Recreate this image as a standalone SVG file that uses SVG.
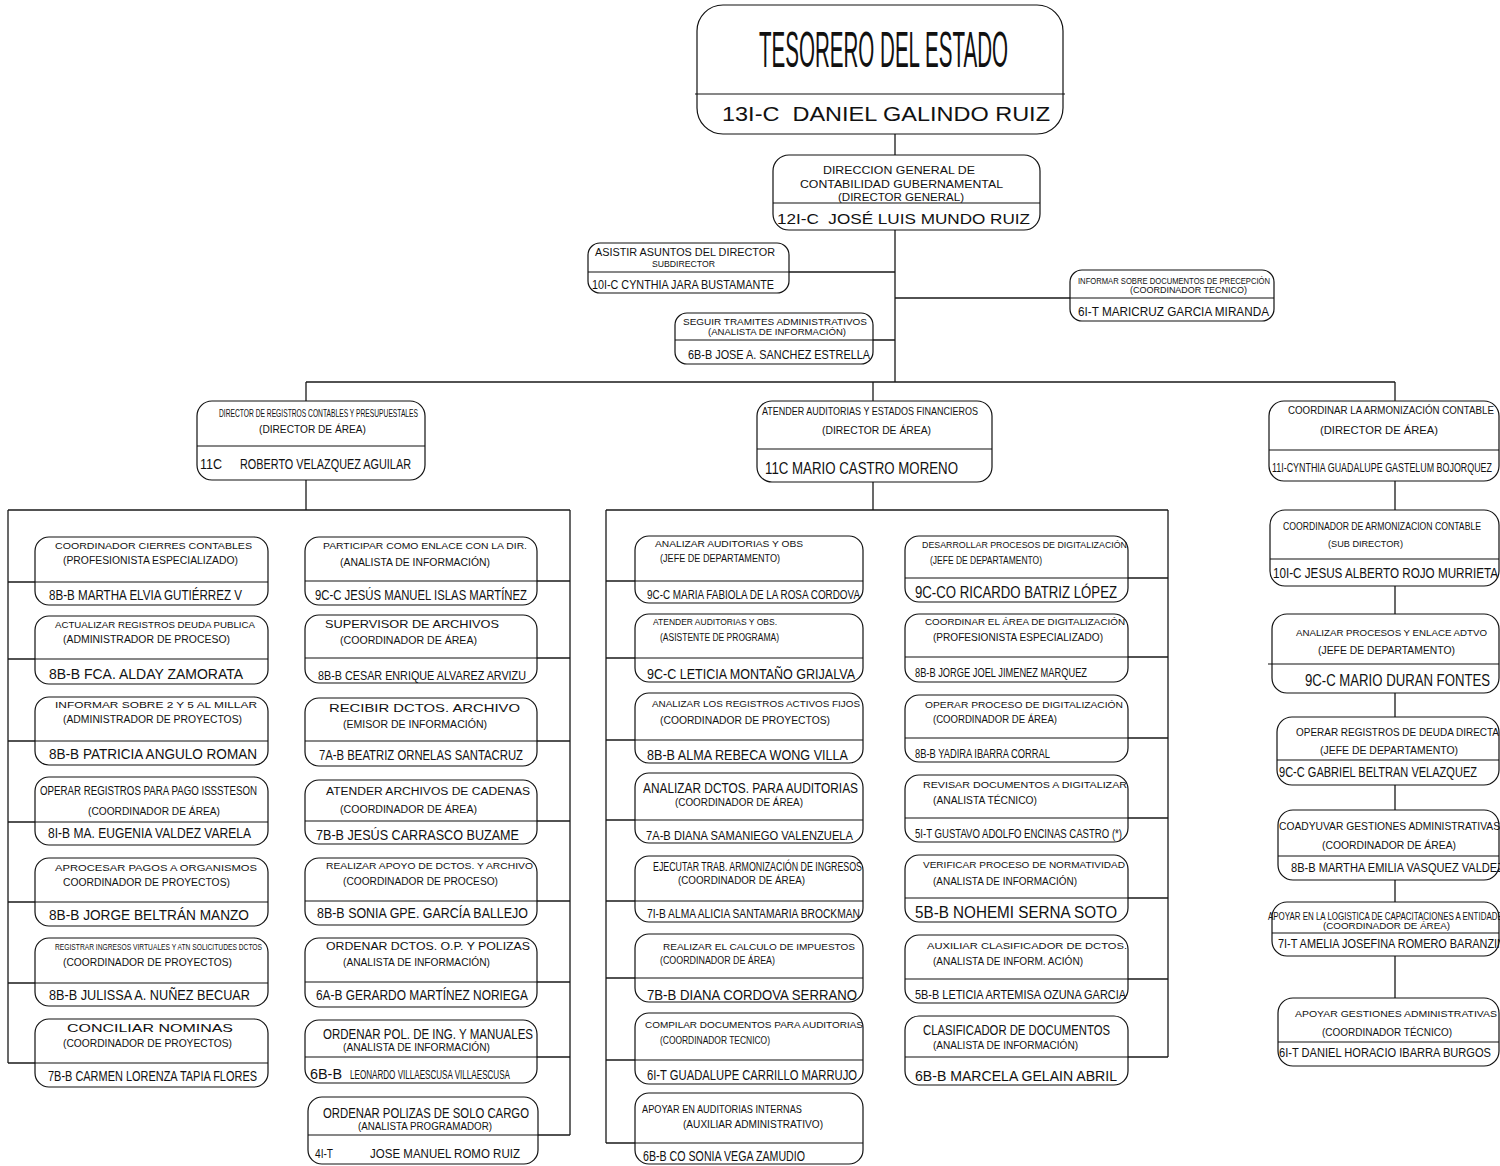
<svg xmlns="http://www.w3.org/2000/svg" width="1500" height="1166" viewBox="0 0 1500 1166">
<style>
text{font-family:"Liberation Sans",Arial,sans-serif;fill:#111}
.box{fill:#fff;stroke:#111;stroke-width:1.2}
.dv{stroke:#111;stroke-width:1.1}
.cn{stroke:#1a1a1a;stroke-width:1.3;fill:none}
</style>
<rect width="1500" height="1166" fill="#fff"/>
<g id="connectors">
<path class="cn" d="M895,134V155M895,230V382M306,382H1395M306,382V401M873,382V401M1395,382V401M789,272H895M873,340H895M895,298H1070"/>
<path class="cn" d="M306,480V510M8,510H570M8,510V1063M570,510V1135"/>
<path class="cn" d="M8,582H35M8,659H35M8,741H35M8,822H35M8,902H35M8,983H35M8,1063H35"/>
<path class="cn" d="M537,581H570M537,658H570M537,741H570M537,821H570M537,901H570M537,982H570M537,1057H570M538,1135H570"/>
<path class="cn" d="M873,482V510M606,510H1168M606,510V1143M1168,510V1057"/>
<path class="cn" d="M606,581H635M606,658H635M606,740H635M606,820H635M606,901H635M606,978H635M606,1060H635M606,1143H635"/>
<path class="cn" d="M1128,578H1168M1128,657H1168M1128,738H1168M1128,818H1168M1128,898H1168M1128,979H1168M1128,1057H1168"/>
<path class="cn" d="M1395,481V510M1395,586V614M1395,693V717M1395,785V810M1395,880V902M1395,956V998"/>
</g>
<g id="n-tesorero"><rect class="box" x="697" y="5" width="366" height="129" rx="26"/><line class="dv" x1="695" y1="94" x2="1065" y2="94"/>
<text x="759" y="67" font-size="50" textLength="249" lengthAdjust="spacingAndGlyphs">TESORERO DEL ESTADO</text>
<text x="722" y="121" font-size="20" textLength="328" lengthAdjust="spacingAndGlyphs" xml:space="preserve">13I-C  DANIEL GALINDO RUIZ</text></g>
<g id="n-dg"><rect class="box" x="773" y="155" width="267" height="75" rx="16"/><line class="dv" x1="773" y1="203" x2="1040" y2="203"/>
<text x="823" y="174" font-size="11" textLength="152" lengthAdjust="spacingAndGlyphs">DIRECCION GENERAL DE</text>
<text x="800" y="188" font-size="11" textLength="203" lengthAdjust="spacingAndGlyphs">CONTABILIDAD GUBERNAMENTAL</text>
<text x="838" y="201" font-size="10" textLength="126" lengthAdjust="spacingAndGlyphs">(DIRECTOR GENERAL)</text>
<text x="777" y="224" font-size="15" textLength="253" lengthAdjust="spacingAndGlyphs" xml:space="preserve">12I-C  JOSÉ LUIS MUNDO RUIZ</text></g>
<g id="n-asistir"><rect class="box" x="588" y="243" width="201" height="50" rx="12"/><line class="dv" x1="588" y1="272" x2="789" y2="272"/>
<text x="595" y="256" font-size="10" textLength="180" lengthAdjust="spacingAndGlyphs">ASISTIR ASUNTOS DEL DIRECTOR</text>
<text x="652" y="267" font-size="9" textLength="63" lengthAdjust="spacingAndGlyphs">SUBDIRECTOR</text>
<text x="592" y="289" font-size="13" textLength="182" lengthAdjust="spacingAndGlyphs">10I-C CYNTHIA JARA BUSTAMANTE</text></g>
<g id="n-seguir"><rect class="box" x="675" y="313" width="198" height="51" rx="12"/><line class="dv" x1="675" y1="340" x2="873" y2="340"/>
<text x="683" y="325" font-size="9.5" textLength="184" lengthAdjust="spacingAndGlyphs">SEGUIR TRAMITES ADMINISTRATIVOS</text>
<text x="708" y="335" font-size="9" textLength="138" lengthAdjust="spacingAndGlyphs">(ANALISTA DE INFORMACIÓN)</text>
<text x="688" y="359" font-size="13" textLength="182" lengthAdjust="spacingAndGlyphs">6B-B JOSE A. SANCHEZ ESTRELLA</text></g>
<g id="n-informar"><rect class="box" x="1070" y="270" width="204" height="51" rx="12"/><line class="dv" x1="1070" y1="298" x2="1274" y2="298"/>
<text x="1078" y="284" font-size="9" textLength="192" lengthAdjust="spacingAndGlyphs">INFORMAR SOBRE DOCUMENTOS DE PRECEPCIÓN</text>
<text x="1130" y="293" font-size="9" textLength="117" lengthAdjust="spacingAndGlyphs">(COORDINADOR TECNICO)</text>
<text x="1078" y="316" font-size="13" textLength="191" lengthAdjust="spacingAndGlyphs">6I-T MARICRUZ GARCIA MIRANDA</text></g>
<g id="n-dir-registros"><rect class="box" x="197" y="401" width="228" height="79" rx="15"/><line class="dv" x1="197" y1="446" x2="425" y2="446"/>
<text x="219" y="417" font-size="11.5" textLength="199" lengthAdjust="spacingAndGlyphs">DIRECTOR DE REGISTROS CONTABLES Y PRESUPUESTALES</text>
<text x="259" y="433" font-size="11" textLength="107" lengthAdjust="spacingAndGlyphs">(DIRECTOR DE ÁREA)</text>
<text x="200" y="469" font-size="14" textLength="22" lengthAdjust="spacingAndGlyphs">11C</text>
<text x="240" y="469" font-size="14" textLength="171" lengthAdjust="spacingAndGlyphs">ROBERTO VELAZQUEZ AGUILAR</text></g>
<g id="n-dir-auditorias"><rect class="box" x="757" y="401" width="235" height="81" rx="15"/><line class="dv" x1="757" y1="449" x2="992" y2="449"/>
<text x="762" y="415" font-size="11.5" textLength="216" lengthAdjust="spacingAndGlyphs">ATENDER AUDITORIAS Y ESTADOS FINANCIEROS</text>
<text x="822" y="434" font-size="11" textLength="109" lengthAdjust="spacingAndGlyphs">(DIRECTOR DE ÁREA)</text>
<text x="765" y="474" font-size="17" textLength="193" lengthAdjust="spacingAndGlyphs">11C MARIO CASTRO MORENO</text></g>
<g id="n-dir-armonizacion"><rect class="box" x="1269" y="401" width="230" height="80" rx="15"/><line class="dv" x1="1269" y1="450" x2="1499" y2="450"/>
<text x="1288" y="414" font-size="10" textLength="206" lengthAdjust="spacingAndGlyphs">COORDINAR LA ARMONIZACIÓN CONTABLE</text>
<text x="1320" y="434" font-size="11" textLength="118" lengthAdjust="spacingAndGlyphs">(DIRECTOR DE ÁREA)</text>
<text x="1272" y="472" font-size="12.5" textLength="220" lengthAdjust="spacingAndGlyphs">11I-CYNTHIA GUADALUPE GASTELUM BOJORQUEZ</text></g>

<g id="n-l1"><rect class="box" x="35" y="537" width="233" height="68" rx="14"/><line class="dv" x1="35" y1="582" x2="268" y2="582"/>
<text x="55" y="549" font-size="9.5" textLength="197" lengthAdjust="spacingAndGlyphs">COORDINADOR CIERRES CONTABLES</text>
<text x="63" y="564" font-size="10" textLength="175" lengthAdjust="spacingAndGlyphs">(PROFESIONISTA ESPECIALIZADO)</text>
<text x="49" y="600" font-size="14" textLength="193" lengthAdjust="spacingAndGlyphs">8B-B MARTHA ELVIA GUTIÉRREZ V</text></g>
<g id="n-l2"><rect class="box" x="35" y="616" width="233" height="68" rx="14"/><line class="dv" x1="35" y1="659" x2="268" y2="659"/>
<text x="55" y="628" font-size="9" textLength="200" lengthAdjust="spacingAndGlyphs">ACTUALIZAR REGISTROS DEUDA PUBLICA</text>
<text x="63" y="643" font-size="10" textLength="167" lengthAdjust="spacingAndGlyphs">(ADMINISTRADOR DE PROCESO)</text>
<text x="49" y="679" font-size="15" textLength="194" lengthAdjust="spacingAndGlyphs">8B-B FCA. ALDAY ZAMORATA</text></g>
<g id="n-l3"><rect class="box" x="35" y="697" width="233" height="68" rx="14"/><line class="dv" x1="35" y1="741" x2="268" y2="741"/>
<text x="55" y="708" font-size="9.5" textLength="202" lengthAdjust="spacingAndGlyphs">INFORMAR SOBRE 2 Y 5 AL MILLAR</text>
<text x="63" y="723" font-size="10" textLength="179" lengthAdjust="spacingAndGlyphs">(ADMINISTRADOR DE PROYECTOS)</text>
<text x="49" y="759" font-size="15" textLength="208" lengthAdjust="spacingAndGlyphs">8B-B PATRICIA ANGULO ROMAN</text></g>
<g id="n-l4"><rect class="box" x="35" y="777" width="233" height="68" rx="14"/><line class="dv" x1="35" y1="822" x2="268" y2="822"/>
<text x="40" y="795" font-size="12.5" textLength="217" lengthAdjust="spacingAndGlyphs">OPERAR REGISTROS PARA PAGO ISSSTESON</text>
<text x="88" y="815" font-size="10" textLength="132" lengthAdjust="spacingAndGlyphs">(COORDINADOR DE ÁREA)</text>
<text x="48" y="838" font-size="14" textLength="203" lengthAdjust="spacingAndGlyphs">8I-B MA. EUGENIA VALDEZ VARELA</text></g>
<g id="n-l5"><rect class="box" x="35" y="858" width="233" height="68" rx="14"/><line class="dv" x1="35" y1="902" x2="268" y2="902"/>
<text x="55" y="871" font-size="9.5" textLength="202" lengthAdjust="spacingAndGlyphs">APROCESAR PAGOS A ORGANISMOS</text>
<text x="63" y="886" font-size="10" textLength="167" lengthAdjust="spacingAndGlyphs">COORDINADOR DE PROYECTOS)</text>
<text x="49" y="920" font-size="15" textLength="200" lengthAdjust="spacingAndGlyphs">8B-B JORGE BELTRÁN MANZO</text></g>
<g id="n-l6"><rect class="box" x="35" y="938" width="233" height="68" rx="14"/><line class="dv" x1="35" y1="983" x2="268" y2="983"/>
<text x="55" y="950" font-size="9.5" textLength="207" lengthAdjust="spacingAndGlyphs">REGISTRAR INGRESOS VIRTUALES Y ATN SOLICITUDES DCTOS</text>
<text x="63" y="966" font-size="11" textLength="169" lengthAdjust="spacingAndGlyphs">(COORDINADOR DE PROYECTOS)</text>
<text x="49" y="1000" font-size="14" textLength="201" lengthAdjust="spacingAndGlyphs">8B-B JULISSA A. NUÑEZ BECUAR</text></g>
<g id="n-l7"><rect class="box" x="35" y="1019" width="233" height="68" rx="14"/><line class="dv" x1="35" y1="1063" x2="268" y2="1063"/>
<text x="67" y="1032" font-size="11.5" textLength="166" lengthAdjust="spacingAndGlyphs">CONCILIAR NOMINAS</text>
<text x="63" y="1047" font-size="10.5" textLength="169" lengthAdjust="spacingAndGlyphs">(COORDINADOR DE PROYECTOS)</text>
<text x="48" y="1081" font-size="14" textLength="209" lengthAdjust="spacingAndGlyphs">7B-B CARMEN LORENZA TAPIA FLORES</text></g>

<g id="n-r1"><rect class="box" x="305" y="537" width="232" height="68" rx="14"/><line class="dv" x1="305" y1="581" x2="537" y2="581"/>
<text x="323" y="549" font-size="9.5" textLength="204" lengthAdjust="spacingAndGlyphs">PARTICIPAR COMO ENLACE CON LA DIR.</text>
<text x="340" y="566" font-size="10" textLength="150" lengthAdjust="spacingAndGlyphs">(ANALISTA DE INFORMACIÓN)</text>
<text x="315" y="600" font-size="14" textLength="212" lengthAdjust="spacingAndGlyphs">9C-C JESÚS MANUEL ISLAS MARTÍNEZ</text></g>
<g id="n-r2"><rect class="box" x="305" y="615" width="232" height="68" rx="14"/><line class="dv" x1="305" y1="658" x2="537" y2="658"/>
<text x="325" y="628" font-size="10.5" textLength="174" lengthAdjust="spacingAndGlyphs">SUPERVISOR DE ARCHIVOS</text>
<text x="340" y="644" font-size="10" textLength="137" lengthAdjust="spacingAndGlyphs">(COORDINADOR DE ÁREA)</text>
<text x="318" y="680" font-size="13" textLength="208" lengthAdjust="spacingAndGlyphs">8B-B CESAR ENRIQUE ALVAREZ ARVIZU</text></g>
<g id="n-r3"><rect class="box" x="305" y="698" width="232" height="68" rx="14"/><line class="dv" x1="305" y1="741" x2="537" y2="741"/>
<text x="329" y="712" font-size="11" textLength="191" lengthAdjust="spacingAndGlyphs">RECIBIR DCTOS. ARCHIVO</text>
<text x="343" y="728" font-size="10" textLength="144" lengthAdjust="spacingAndGlyphs">(EMISOR DE INFORMACIÓN)</text>
<text x="319" y="760" font-size="14" textLength="204" lengthAdjust="spacingAndGlyphs">7A-B BEATRIZ ORNELAS SANTACRUZ</text></g>
<g id="n-r4"><rect class="box" x="305" y="780" width="232" height="64" rx="14"/><line class="dv" x1="305" y1="821" x2="537" y2="821"/>
<text x="326" y="795" font-size="10" textLength="204" lengthAdjust="spacingAndGlyphs">ATENDER ARCHIVOS DE CADENAS</text>
<text x="340" y="813" font-size="10" textLength="137" lengthAdjust="spacingAndGlyphs">(COORDINADOR DE ÁREA)</text>
<text x="316" y="840" font-size="14" textLength="203" lengthAdjust="spacingAndGlyphs">7B-B JESÚS CARRASCO BUZAME</text></g>
<g id="n-r5"><rect class="box" x="305" y="858" width="232" height="67" rx="14"/><line class="dv" x1="305" y1="901" x2="537" y2="901"/>
<text x="326" y="869" font-size="9" textLength="207" lengthAdjust="spacingAndGlyphs">REALIZAR APOYO DE DCTOS. Y ARCHIVO</text>
<text x="343" y="885" font-size="10" textLength="155" lengthAdjust="spacingAndGlyphs">(COORDINADOR DE PROCESO)</text>
<text x="317" y="918" font-size="14" textLength="211" lengthAdjust="spacingAndGlyphs">8B-B SONIA GPE. GARCÍA BALLEJO</text></g>
<g id="n-r6"><rect class="box" x="305" y="938" width="232" height="69" rx="14"/><line class="dv" x1="305" y1="982" x2="537" y2="982"/>
<text x="326" y="950" font-size="10" textLength="204" lengthAdjust="spacingAndGlyphs">ORDENAR DCTOS. O.P. Y POLIZAS</text>
<text x="343" y="966" font-size="10" textLength="147" lengthAdjust="spacingAndGlyphs">(ANALISTA DE INFORMACIÓN)</text>
<text x="316" y="1000" font-size="14" textLength="212" lengthAdjust="spacingAndGlyphs">6A-B GERARDO MARTÍNEZ NORIEGA</text></g>
<g id="n-r7"><rect class="box" x="305" y="1020" width="232" height="63" rx="14"/><line class="dv" x1="305" y1="1057" x2="537" y2="1057"/>
<text x="323" y="1039" font-size="15" textLength="210" lengthAdjust="spacingAndGlyphs">ORDENAR POL. DE ING. Y MANUALES</text>
<text x="343" y="1051" font-size="10" textLength="147" lengthAdjust="spacingAndGlyphs">(ANALISTA DE INFORMACIÓN)</text>
<text x="310" y="1079" font-size="14" textLength="32" lengthAdjust="spacingAndGlyphs">6B-B</text>
<text x="350" y="1079" font-size="12" textLength="160" lengthAdjust="spacingAndGlyphs">LEONARDO VILLAESCUSA VILLAESCUSA</text></g>
<g id="n-r8"><rect class="box" x="308" y="1097" width="230" height="67" rx="14"/><line class="dv" x1="308" y1="1135" x2="538" y2="1135"/>
<text x="323" y="1118" font-size="15" textLength="206" lengthAdjust="spacingAndGlyphs">ORDENAR POLIZAS DE SOLO CARGO</text>
<text x="358" y="1130" font-size="10" textLength="134" lengthAdjust="spacingAndGlyphs">(ANALISTA PROGRAMADOR)</text>
<text x="315" y="1158" font-size="13" textLength="18" lengthAdjust="spacingAndGlyphs">4I-T</text>
<text x="370" y="1158" font-size="13" textLength="150" lengthAdjust="spacingAndGlyphs">JOSE MANUEL ROMO RUIZ</text></g>

<g id="n-m1"><rect class="box" x="635" y="536" width="228" height="67" rx="14"/><line class="dv" x1="635" y1="581" x2="863" y2="581"/>
<text x="655" y="547" font-size="9" textLength="148" lengthAdjust="spacingAndGlyphs">ANALIZAR AUDITORIAS Y OBS</text>
<text x="660" y="562" font-size="10" textLength="120" lengthAdjust="spacingAndGlyphs">(JEFE DE DEPARTAMENTO)</text>
<text x="647" y="599" font-size="12" textLength="213" lengthAdjust="spacingAndGlyphs">9C-C MARIA FABIOLA DE LA ROSA CORDOVA</text></g>
<g id="n-m2"><rect class="box" x="635" y="614" width="228" height="68" rx="14"/><line class="dv" x1="635" y1="658" x2="863" y2="658"/>
<text x="653" y="625" font-size="9" textLength="124" lengthAdjust="spacingAndGlyphs">ATENDER AUDITORIAS Y OBS.</text>
<text x="660" y="641" font-size="10" textLength="119" lengthAdjust="spacingAndGlyphs">(ASISTENTE DE PROGRAMA)</text>
<text x="647" y="679" font-size="15" textLength="208" lengthAdjust="spacingAndGlyphs">9C-C LETICIA MONTAÑO GRIJALVA</text></g>
<g id="n-m3"><rect class="box" x="635" y="693" width="228" height="70" rx="14"/><line class="dv" x1="635" y1="740" x2="863" y2="740"/>
<text x="652" y="707" font-size="8.5" textLength="208" lengthAdjust="spacingAndGlyphs">ANALIZAR LOS REGISTROS ACTIVOS FIJOS</text>
<text x="660" y="724" font-size="10" textLength="170" lengthAdjust="spacingAndGlyphs">(COORDINADOR DE PROYECTOS)</text>
<text x="647" y="760" font-size="15" textLength="201" lengthAdjust="spacingAndGlyphs">8B-B ALMA REBECA WONG VILLA</text></g>
<g id="n-m4"><rect class="box" x="635" y="773" width="228" height="70" rx="14"/><line class="dv" x1="635" y1="820" x2="863" y2="820"/>
<text x="643" y="793" font-size="14" textLength="215" lengthAdjust="spacingAndGlyphs">ANALIZAR DCTOS. PARA AUDITORIAS</text>
<text x="675" y="806" font-size="10" textLength="128" lengthAdjust="spacingAndGlyphs">(COORDINADOR DE ÁREA)</text>
<text x="646" y="840" font-size="13" textLength="207" lengthAdjust="spacingAndGlyphs">7A-B DIANA SAMANIEGO VALENZUELA</text></g>
<g id="n-m5"><rect class="box" x="635" y="856" width="228" height="66" rx="14"/><line class="dv" x1="635" y1="901" x2="863" y2="901"/>
<text x="653" y="871" font-size="12" textLength="209" lengthAdjust="spacingAndGlyphs">EJECUTAR TRAB. ARMONIZACIÓN DE INGRESOS</text>
<text x="678" y="884" font-size="10" textLength="127" lengthAdjust="spacingAndGlyphs">(COORDINADOR DE ÁREA)</text>
<text x="647" y="918" font-size="12" textLength="213" lengthAdjust="spacingAndGlyphs">7I-B ALMA ALICIA SANTAMARIA BROCKMAN</text></g>
<g id="n-m6"><rect class="box" x="635" y="934" width="228" height="68" rx="14"/><line class="dv" x1="635" y1="978" x2="863" y2="978"/>
<text x="663" y="950" font-size="9.5" textLength="192" lengthAdjust="spacingAndGlyphs">REALIZAR EL CALCULO DE IMPUESTOS</text>
<text x="660" y="964" font-size="10" textLength="115" lengthAdjust="spacingAndGlyphs">(COORDINADOR DE ÁREA)</text>
<text x="647" y="1000" font-size="15" textLength="210" lengthAdjust="spacingAndGlyphs">7B-B DIANA CORDOVA SERRANO</text></g>
<g id="n-m7"><rect class="box" x="635" y="1013" width="228" height="71" rx="14"/><line class="dv" x1="635" y1="1060" x2="863" y2="1060"/>
<text x="645" y="1028" font-size="9" textLength="218" lengthAdjust="spacingAndGlyphs">COMPILAR DOCUMENTOS PARA AUDITORIAS</text>
<text x="660" y="1044" font-size="10" textLength="110" lengthAdjust="spacingAndGlyphs">(COORDINADOR TECNICO)</text>
<text x="647" y="1080" font-size="14" textLength="210" lengthAdjust="spacingAndGlyphs">6I-T GUADALUPE CARRILLO MARRUJO</text></g>
<g id="n-m8"><rect class="box" x="635" y="1093" width="228" height="71" rx="14"/><line class="dv" x1="635" y1="1143" x2="863" y2="1143"/>
<text x="642" y="1113" font-size="11" textLength="160" lengthAdjust="spacingAndGlyphs">APOYAR EN AUDITORIAS INTERNAS</text>
<text x="683" y="1128" font-size="10" textLength="140" lengthAdjust="spacingAndGlyphs">(AUXILIAR ADMINISTRATIVO)</text>
<text x="643" y="1161" font-size="14" textLength="162" lengthAdjust="spacingAndGlyphs">6B-B CO SONIA VEGA ZAMUDIO</text></g>

<g id="n-d1"><rect class="box" x="905" y="536" width="223" height="66" rx="14"/><line class="dv" x1="905" y1="578" x2="1128" y2="578"/>
<text x="922" y="548" font-size="9" textLength="205" lengthAdjust="spacingAndGlyphs">DESARROLLAR PROCESOS DE DIGITALIZACIÓN</text>
<text x="930" y="564" font-size="10" textLength="112" lengthAdjust="spacingAndGlyphs">(JEFE DE DEPARTAMENTO)</text>
<text x="915" y="598" font-size="16" textLength="202" lengthAdjust="spacingAndGlyphs">9C-CO RICARDO BATRIZ LÓPEZ</text></g>
<g id="n-d2"><rect class="box" x="905" y="614" width="223" height="68" rx="14"/><line class="dv" x1="905" y1="657" x2="1128" y2="657"/>
<text x="925" y="625" font-size="9.5" textLength="200" lengthAdjust="spacingAndGlyphs">COORDINAR EL ÁREA DE DIGITALIZACIÓN</text>
<text x="933" y="641" font-size="10" textLength="170" lengthAdjust="spacingAndGlyphs">(PROFESIONISTA ESPECIALIZADO)</text>
<text x="915" y="677" font-size="13" textLength="172" lengthAdjust="spacingAndGlyphs">8B-B JORGE JOEL JIMENEZ MARQUEZ</text></g>
<g id="n-d3"><rect class="box" x="905" y="695" width="223" height="67" rx="14"/><line class="dv" x1="905" y1="738" x2="1128" y2="738"/>
<text x="925" y="708" font-size="9.5" textLength="198" lengthAdjust="spacingAndGlyphs">OPERAR PROCESO DE DIGITALIZACIÓN</text>
<text x="933" y="723" font-size="10" textLength="124" lengthAdjust="spacingAndGlyphs">(COORDINADOR DE ÁREA)</text>
<text x="915" y="758" font-size="13" textLength="135" lengthAdjust="spacingAndGlyphs">8B-B YADIRA IBARRA CORRAL</text></g>
<g id="n-d4"><rect class="box" x="905" y="775" width="223" height="67" rx="14"/><line class="dv" x1="905" y1="818" x2="1128" y2="818"/>
<text x="923" y="788" font-size="9.5" textLength="204" lengthAdjust="spacingAndGlyphs">REVISAR DOCUMENTOS A DIGITALIZAR</text>
<text x="933" y="804" font-size="10" textLength="104" lengthAdjust="spacingAndGlyphs">(ANALISTA TÉCNICO)</text>
<text x="915" y="838" font-size="13" textLength="207" lengthAdjust="spacingAndGlyphs">5I-T GUSTAVO ADOLFO ENCINAS CASTRO (*)</text></g>
<g id="n-d5"><rect class="box" x="905" y="855" width="223" height="67" rx="14"/><line class="dv" x1="905" y1="898" x2="1128" y2="898"/>
<text x="923" y="868" font-size="9.5" textLength="202" lengthAdjust="spacingAndGlyphs">VERIFICAR PROCESO DE NORMATIVIDAD</text>
<text x="933" y="885" font-size="10" textLength="144" lengthAdjust="spacingAndGlyphs">(ANALISTA DE INFORMACIÓN)</text>
<text x="915" y="918" font-size="16" textLength="202" lengthAdjust="spacingAndGlyphs">5B-B NOHEMI SERNA SOTO</text></g>
<g id="n-d6"><rect class="box" x="905" y="935" width="223" height="68" rx="14"/><line class="dv" x1="905" y1="979" x2="1128" y2="979"/>
<text x="927" y="949" font-size="9.5" textLength="200" lengthAdjust="spacingAndGlyphs">AUXILIAR CLASIFICADOR DE DCTOS.</text>
<text x="933" y="965" font-size="10" textLength="150" lengthAdjust="spacingAndGlyphs">(ANALISTA DE INFORM. ACIÓN)</text>
<text x="915" y="999" font-size="13" textLength="211" lengthAdjust="spacingAndGlyphs">5B-B LETICIA ARTEMISA OZUNA GARCIA</text></g>
<g id="n-d7"><rect class="box" x="905" y="1016" width="223" height="69" rx="14"/><line class="dv" x1="905" y1="1057" x2="1128" y2="1057"/>
<text x="923" y="1035" font-size="15" textLength="187" lengthAdjust="spacingAndGlyphs">CLASIFICADOR DE DOCUMENTOS</text>
<text x="933" y="1049" font-size="10" textLength="145" lengthAdjust="spacingAndGlyphs">(ANALISTA DE INFORMACIÓN)</text>
<text x="915" y="1081" font-size="15" textLength="202" lengthAdjust="spacingAndGlyphs">6B-B MARCELA GELAIN ABRIL</text></g>

<g id="n-a2"><rect class="box" x="1270" y="510" width="229" height="76" rx="15"/><line class="dv" x1="1270" y1="559" x2="1499" y2="559"/>
<text x="1283" y="530" font-size="10.5" textLength="198" lengthAdjust="spacingAndGlyphs">COORDINADOR DE ARMONIZACION CONTABLE</text>
<text x="1328" y="547" font-size="9.5" textLength="75" lengthAdjust="spacingAndGlyphs">(SUB DIRECTOR)</text>
<text x="1273" y="578" font-size="14" textLength="225" lengthAdjust="spacingAndGlyphs">10I-C JESUS ALBERTO ROJO MURRIETA</text></g>
<g id="n-a3"><rect class="box" x="1272" y="614" width="227" height="79" rx="15"/><line class="dv" x1="1268" y1="664" x2="1499" y2="664"/>
<text x="1296" y="636" font-size="9.5" textLength="191" lengthAdjust="spacingAndGlyphs">ANALIZAR PROCESOS Y ENLACE ADTVO</text>
<text x="1318" y="654" font-size="11" textLength="137" lengthAdjust="spacingAndGlyphs">(JEFE DE DEPARTAMENTO)</text>
<text x="1305" y="686" font-size="17" textLength="185" lengthAdjust="spacingAndGlyphs">9C-C MARIO DURAN FONTES</text></g>
<g id="n-a4"><rect class="box" x="1277" y="717" width="222" height="68" rx="15"/><line class="dv" x1="1277" y1="760" x2="1499" y2="760"/>
<text x="1296" y="736" font-size="10" textLength="203" lengthAdjust="spacingAndGlyphs">OPERAR REGISTROS DE DEUDA DIRECTA</text>
<text x="1320" y="754" font-size="11" textLength="138" lengthAdjust="spacingAndGlyphs">(JEFE DE DEPARTAMENTO)</text>
<text x="1279" y="777" font-size="14" textLength="198" lengthAdjust="spacingAndGlyphs">9C-C GABRIEL BELTRAN VELAZQUEZ</text></g>
<g id="n-a5"><rect class="box" x="1278" y="810" width="221" height="70" rx="15"/><line class="dv" x1="1278" y1="856" x2="1499" y2="856"/>
<text x="1279" y="830" font-size="11" textLength="221" lengthAdjust="spacingAndGlyphs">COADYUVAR GESTIONES ADMINISTRATIVAS</text>
<text x="1322" y="849" font-size="10" textLength="134" lengthAdjust="spacingAndGlyphs">(COORDINADOR DE ÁREA)</text>
<text x="1291" y="872" font-size="12" textLength="213" lengthAdjust="spacingAndGlyphs">8B-B MARTHA EMILIA VASQUEZ VALDEZ</text></g>
<g id="n-a6"><rect class="box" x="1272" y="902" width="227" height="54" rx="15"/><line class="dv" x1="1272" y1="933" x2="1499" y2="933"/>
<text x="1268" y="920" font-size="10" textLength="240" lengthAdjust="spacingAndGlyphs">APOYAR EN LA LOGISTICA DE CAPACITACIONES A ENTIDADES</text>
<text x="1323" y="929" font-size="9.5" textLength="127" lengthAdjust="spacingAndGlyphs">(COORDINADOR DE ÁREA)</text>
<text x="1278" y="948" font-size="13" textLength="230" lengthAdjust="spacingAndGlyphs">7I-T AMELIA JOSEFINA ROMERO BARANZINI</text></g>
<g id="n-a7"><rect class="box" x="1278" y="998" width="221" height="68" rx="15"/><line class="dv" x1="1278" y1="1042" x2="1499" y2="1042"/>
<text x="1295" y="1017" font-size="9.5" textLength="202" lengthAdjust="spacingAndGlyphs">APOYAR GESTIONES ADMINISTRATIVAS</text>
<text x="1322" y="1036" font-size="10" textLength="130" lengthAdjust="spacingAndGlyphs">(COORDINADOR TÉCNICO)</text>
<text x="1279" y="1057" font-size="12" textLength="212" lengthAdjust="spacingAndGlyphs">6I-T DANIEL HORACIO IBARRA BURGOS</text></g>
</svg>
